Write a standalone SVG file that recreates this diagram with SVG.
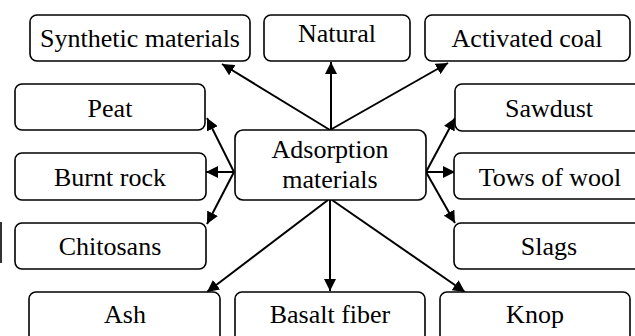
<svg xmlns="http://www.w3.org/2000/svg" width="635" height="336" viewBox="0 0 635 336">
<style>
.box{fill:#fff;stroke:#000;stroke-width:1.6}
.t{font-family:'Liberation Serif','Times New Roman',Times,'DejaVu Serif',serif;font-size:26px;fill:#000;text-anchor:middle}
.c line{stroke:#000;stroke-width:2;marker-end:url(#ah)}
</style>
<defs>
<marker id="ah" markerUnits="userSpaceOnUse" markerWidth="14" markerHeight="12" refX="12" refY="6" orient="auto">
<path d="M0,0 L12,6 L0,12 Z" fill="#000"/>
</marker>
</defs>
<rect width="635" height="336" fill="#fff"/>
<line x1="1" y1="222" x2="1" y2="263" stroke="#000" stroke-width="1.6"/>
<g class="c" id="connectors">
<line x1="330" y1="130" x2="222" y2="64"/>
<line x1="331" y1="130" x2="331" y2="62"/>
<line x1="330" y1="130" x2="448" y2="63"/>
<line x1="234" y1="172" x2="207" y2="118"/>
<line x1="234" y1="172" x2="206" y2="172"/>
<line x1="234" y1="172" x2="207" y2="224"/>
<line x1="426" y1="172" x2="455" y2="118"/>
<line x1="426" y1="172" x2="455" y2="172"/>
<line x1="426" y1="172" x2="455" y2="223"/>
<line x1="328" y1="200" x2="207" y2="292"/>
<line x1="330" y1="200" x2="330" y2="291"/>
<line x1="332" y1="200" x2="465" y2="292"/>
</g>
<g id="center"><rect class="box" x="235" y="130" width="191" height="70" rx="8"/><text class="t" x="330" y="158" font-family="Liberation Serif, serif">Adsorption</text><text class="t" x="330" y="188">materials</text></g>
<g id="synthetic"><rect class="box" x="30" y="15" width="220" height="46" rx="7"/><text class="t" x="140" y="47">Synthetic materials</text></g>
<g id="natural"><rect class="box" x="264" y="15" width="146" height="46" rx="7"/><text class="t" x="337" y="42">Natural</text></g>
<g id="activated"><rect class="box" x="425" y="15" width="205" height="46" rx="7"/><text class="t" x="527" y="47">Activated coal</text></g>
<g id="peat"><rect class="box" x="15" y="84" width="190" height="46" rx="7"/><text class="t" x="110" y="117">Peat</text></g>
<g id="burnt"><rect class="box" x="15" y="153" width="191" height="47" rx="7"/><text class="t" x="110" y="186">Burnt rock</text></g>
<g id="chitosans"><rect class="box" x="15" y="223" width="191" height="46" rx="7"/><text class="t" x="110" y="255">Chitosans</text></g>
<g id="sawdust"><rect class="box" x="455" y="84" width="190" height="47" rx="7"/><text class="t" x="549" y="117">Sawdust</text></g>
<g id="tows"><rect class="box" x="454" y="153" width="191" height="46" rx="7"/><text class="t" x="550" y="186">Tows of wool</text></g>
<g id="slags"><rect class="box" x="454" y="223" width="191" height="46" rx="7"/><text class="t" x="549" y="255">Slags</text></g>
<g id="ash"><rect class="box" x="29" y="292" width="191" height="50" rx="7"/><text class="t" x="125" y="323">Ash</text></g>
<g id="basalt"><rect class="box" x="235" y="292" width="190" height="50" rx="7"/><text class="t" x="330" y="323">Basalt fiber</text></g>
<g id="knop"><rect class="box" x="440" y="292" width="190" height="50" rx="7"/><text class="t" x="535" y="323">Knop</text></g>
</svg>
